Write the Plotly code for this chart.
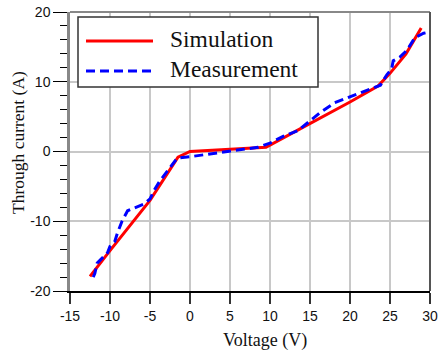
import plotly.graph_objects as go

# ---- data ----
sim_v = [-12.5, -10.0, -5.0, -2.9, -1.5, 0.0, 9.5, 13.7, 20.0, 23.5, 25.0, 27.0, 28.9]
sim_i = [-17.9, -14.2, -7.0, -3.3, -0.8, 0.0, 0.6, 3.2, 7.1, 9.4, 11.2, 14.0, 17.7]

meas_v = [-12.1, -11.9, -11.6, -11.0, -10.3, -10.0, -9.4, -9.1, -8.5, -7.8, -6.8, -5.7,
          -5.0, -4.5, -3.75, -1.7, -1.3, 0.0, 4.0, 8.5, 10.0, 11.7, 13.5, 15.0, 16.3,
          18.1, 20.0, 22.7, 23.8, 24.6, 25.2, 25.4, 26.2, 27.1, 28.1, 29.2, 29.8]
meas_i = [-18.0, -17.5, -16.0, -15.3, -14.5, -13.6, -12.9, -11.8, -10.0, -8.5, -8.0, -7.5,
          -6.8, -5.6, -4.2, -1.1, -0.9, -0.75, -0.1, 0.6, 1.2, 2.2, 3.0, 4.4, 5.6,
          7.0, 7.8, 9.0, 9.5, 11.0, 11.8, 13.0, 13.5, 14.5, 16.3, 16.95, 17.1]

x_ticks = [-15, -10, -5, 0, 5, 10, 15, 20, 25, 30]
x_tick_labels = ["-15", "-10", "-5", "0", "5", "10", "15", "20", "25", "30"]
y_ticks = [-20, -10, 0, 10, 20]
y_tick_labels = ["-20", "-10", "0", "10", "20"]

series_names = ["Simulation", "Measurement"]
x_title = "Voltage (V)"
y_title = "Through current (A)"

fig = go.Figure()
fig.add_trace(go.Scatter(x=sim_v, y=sim_i, mode="lines", name=series_names[0],
                         line=dict(color="#ff0000", width=3), showlegend=False))
fig.add_trace(go.Scatter(x=meas_v, y=meas_i, mode="lines", name=series_names[1],
                         line=dict(color="#0000ff", width=3, dash="9px,5px"), showlegend=False))

W, H = 438, 360
L, R, T, B = 70, 8, 12, 69
pw, ph = W - L - R, H - T - B

def px(x):
    return (x - L) / pw

def py(y):
    return (H - B - y) / ph

tickfont = dict(family="Liberation Sans, Arial, sans-serif", size=14, color="#111")
serif = "Liberation Serif, Times New Roman, serif"

fig.update_layout(
    width=W, height=H,
    margin=dict(l=L, r=R, t=T, b=B, autoexpand=False),
    paper_bgcolor="white", plot_bgcolor="white",
    showlegend=False,
    xaxis=dict(range=[-15, 30], tickmode="array", tickvals=x_ticks, ticktext=x_tick_labels,
               automargin=False, showgrid=True, gridcolor="#c8c8c8",
               gridwidth=1.5, zeroline=False, showline=True, linecolor="#000",
               linewidth=1.5, ticks="outside", ticklen=11, tickwidth=1.5,
               tickcolor="#333", tickfont=tickfont),
    yaxis=dict(range=[-20, 20], tickmode="array", tickvals=y_ticks, ticktext=y_tick_labels,
               automargin=False, showgrid=True, gridcolor="#c8c8c8",
               gridwidth=1.5, zeroline=False, showline=True, linecolor="#888",
               linewidth=2.5, ticks="outside", ticklen=14, tickwidth=1.2,
               tickcolor="#000", tickfont=tickfont,
               minor=dict(dtick=2, tick0=0, ticks="outside", ticklen=7, tickwidth=1.2,
                          tickcolor="#000", showgrid=False)),
)

shapes = [
    # top and right frame
    dict(type="line", xref="paper", yref="paper", x0=0, x1=1, y0=1, y1=1,
         line=dict(color="#888", width=2)),
    dict(type="line", xref="paper", yref="paper", x0=1, x1=1, y0=0, y1=1,
         line=dict(color="#555", width=2)),
    # legend box
    dict(type="rect", xref="paper", yref="paper", x0=px(78), x1=px(318), y0=py(87), y1=py(17),
         fillcolor="white", line=dict(color="#333", width=1.5), layer="above"),
    dict(type="line", xref="paper", yref="paper", x0=px(86), x1=px(153), y0=py(41), y1=py(41),
         line=dict(color="#ff0000", width=3), layer="above"),
    dict(type="line", xref="paper", yref="paper", x0=px(86), x1=px(153), y0=py(71), y1=py(71),
         line=dict(color="#0000ff", width=3, dash="9px,5px"), layer="above"),
]
fig.update_layout(shapes=shapes)

annotations = [
    dict(text=series_names[0], xref="paper", yref="paper", x=px(168), y=py(39),
         xanchor="left", yanchor="middle", showarrow=False,
         font=dict(family=serif, size=23.5, color="#111")),
    dict(text=series_names[1], xref="paper", yref="paper", x=px(168), y=py(69),
         xanchor="left", yanchor="middle", showarrow=False,
         font=dict(family=serif, size=23.5, color="#111")),
    dict(text=x_title, xref="paper", yref="paper", x=px(265), y=py(340),
         xanchor="center", yanchor="middle", showarrow=False,
         font=dict(family=serif, size=18, color="#111")),
    dict(text=y_title, xref="paper", yref="paper", x=px(18), y=py(143),
         xanchor="center", yanchor="middle", showarrow=False, textangle=-90,
         font=dict(family=serif, size=17.5, color="#111")),
]
fig.update_layout(annotations=annotations)

fig.write_html("out.html")
